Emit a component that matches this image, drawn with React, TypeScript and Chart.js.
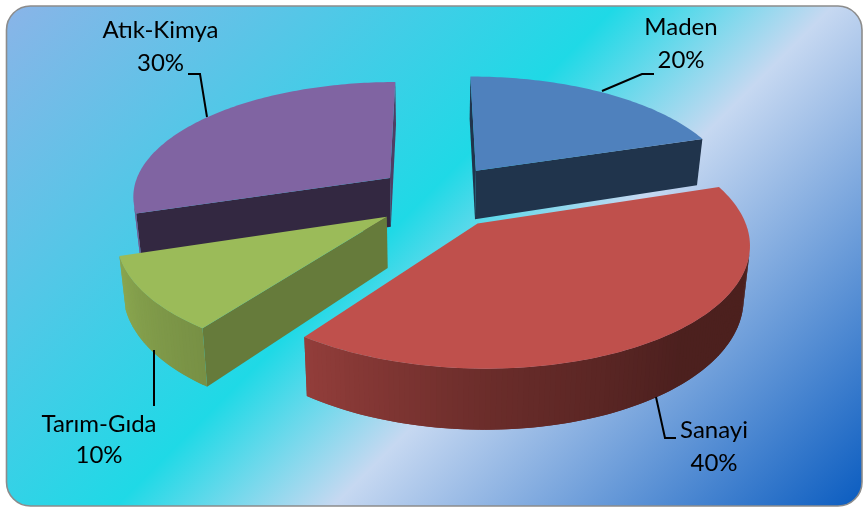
import React, { useEffect, useRef } from "react";
import { Chart, registerables } from "chart.js";

Chart.register(...registerables);

// Sector data, clockwise from twelve o'clock
const categories = ["Maden", "Sanayi", "Tarım-Gıda", "Atık-Kimya"];
const shares = [20, 40, 10, 30];
const topColors = ["#4f81bd", "#bf504c", "#9bbb59", "#8064a2"];

// How far each sector is pulled out of the pie, in radii (sideways, towards the viewer)
const explode: [number, number][] = [
  [0.175, -0.226],
  [0.17, 0.23],
  [-0.17, 0.175],
  [-0.166, -0.16],
];
// Brightness of the two cut faces of each sector (start edge, end edge)
const cutShade: [number, number][] = [
  [0.4, 0.4],
  [0.4, 0.4],
  [0.66, 0.66],
  [0.4, 0.62],
];
// Rim brightness as the rim turns from the right, through the front, to the left (degrees clockwise)
const rimShade: [number, number][] = [
  [90, 0.4],
  [140, 0.4],
  [180, 0.56],
  [216, 0.77],
  [252, 0.89],
  [270, 0.9],
];
// Paint order, furthest sector first
const paintOrder = [3, 0, 2, 1];

// Text blocks: centre x and the baselines of the two lines
const labelPlaces = [
  { x: 681, y: [35, 68] },
  { x: 714, y: [438, 471] },
  { x: 99, y: [432, 463] },
  { x: 160.5, y: [38, 71] },
];
const leaderLines: [number, number][][] = [
  [[654, 74], [642, 74], [602, 91]],
  [[656, 397], [665, 438], [676, 438]],
  [[154, 350], [154, 406]],
  [[188, 74], [200, 74], [207, 117]],
];

// Camera used to lay the pie down in perspective
const camera = { cx: 432, cy: 196, fx: 259, fy: 115, persp: 0.147, thick: 50, taper: 0.02 };

const project = (X: number, Y: number, z: number): [number, number] => {
  const d = 1 - camera.persp * Y;
  return [
    camera.cx + (camera.fx * X * (1 - camera.taper * z)) / d,
    camera.cy + (camera.fy * Y + camera.thick * z) / d,
  ];
};

const rgbOf = (hex: string) => [1, 3, 5].map((i) => parseInt(hex.slice(i, i + 2), 16));
const shaded = (hex: string, k: number) => {
  const [r, g, b] = rgbOf(hex);
  return `rgb(${Math.round(r * k)},${Math.round(g * k)},${Math.round(b * k)})`;
};

const rimBrightness = (clockDeg: number) => {
  const a = clockDeg < 90 ? 90 : clockDeg > 270 ? 270 : clockDeg;
  for (let i = 1; i < rimShade.length; i++) {
    const [a0, k0] = rimShade[i - 1];
    const [a1, k1] = rimShade[i];
    if (a <= a1) return k0 + ((k1 - k0) * (a - a0)) / (a1 - a0);
  }
  return 0.9;
};

const fillPoly = (ctx: CanvasRenderingContext2D, pts: [number, number][], color: string) => {
  ctx.beginPath();
  pts.forEach(([x, y], i) => (i ? ctx.lineTo(x, y) : ctx.moveTo(x, y)));
  ctx.closePath();
  ctx.fillStyle = color;
  ctx.fill();
};

const polyArea = (pts: [number, number][]) =>
  pts.reduce((s, [x, y], i) => {
    const [nx, ny] = pts[(i + 1) % pts.length];
    return s + x * ny - nx * y;
  }, 0);

// A wall hanging below the edge p -> q, painted only when it faces the viewer
const drawWall = (
  ctx: CanvasRenderingContext2D,
  p: [number, number],
  q: [number, number],
  color: string
) => {
  const quad: [number, number][] = [
    project(p[0], p[1], 0),
    project(q[0], q[1], 0),
    project(q[0], q[1], 1),
    project(p[0], p[1], 1),
  ];
  if (polyArea(quad) < 0) fillPoly(ctx, quad, color);
};

const drawPanel = (ctx: CanvasRenderingContext2D) => {
  const g = ctx.createLinearGradient(6, 6, 684, 684);
  g.addColorStop(0, "#8ab4e8");
  g.addColorStop(0.45, "#1fd9e6");
  g.addColorStop(0.61, "#c6d8f1");
  g.addColorStop(1, "#0a5cc0");
  ctx.beginPath();
  ctx.roundRect(6.5, 6, 855.5, 500, 24);
  ctx.fillStyle = g;
  ctx.fill();
  ctx.strokeStyle = "#8c8c8c";
  ctx.lineWidth = 1.6;
  ctx.stroke();
};

const pie3d = {
  id: "pie3d",
  beforeDatasetsDraw(chart: Chart) {
    const ctx = chart.ctx;
    const arcs = chart.getDatasetMeta(0).data as any[];
    ctx.save();
    drawPanel(ctx);

    paintOrder.forEach((i) => {
      const { startAngle, endAngle } = arcs[i].getProps(["startAngle", "endAngle"], true);
      const [ox, oy] = explode[i];
      const color = topColors[i];
      const steps = Math.max(2, Math.round(((endAngle - startAngle) * 180) / Math.PI));
      const rim: [number, number][] = [];
      for (let s = 0; s <= steps; s++) {
        const a = startAngle + ((endAngle - startAngle) * s) / steps;
        rim.push([ox + Math.cos(a), oy + Math.sin(a)]);
      }
      const apex: [number, number] = [ox, oy];

      // Cut faces
      drawWall(ctx, apex, rim[0], shaded(color, cutShade[i][0]));
      drawWall(ctx, rim[steps], apex, shaded(color, cutShade[i][1]));
      // Outer rim, bands one degree wide that overlap the next band to hide the seams
      for (let s = 0; s < steps; s++) {
        const mid = startAngle + ((endAngle - startAngle) * (s + 0.5)) / steps;
        const clock = (((mid * 180) / Math.PI + 90) % 360 + 360) % 360;
        drawWall(ctx, rim[s], rim[Math.min(s + 2, steps)], shaded(color, rimBrightness(clock)));
      }
      // Top face
      const top = [apex, ...rim].map(([x, y]) => project(x, y, 0));
      fillPoly(ctx, top, color);
    });

    // Leader lines
    ctx.strokeStyle = "#000";
    ctx.lineWidth = 2;
    ctx.lineJoin = "miter";
    leaderLines.forEach((line) => {
      ctx.beginPath();
      line.forEach(([x, y], k) => (k ? ctx.lineTo(x, y) : ctx.moveTo(x, y)));
      ctx.stroke();
    });

    // Category and share
    ctx.fillStyle = "#000";
    ctx.font = '24px Lato, "Open Sans", sans-serif';
    ctx.textAlign = "center";
    ctx.textBaseline = "alphabetic";
    categories.forEach((name, i) => {
      const place = labelPlaces[i];
      ctx.fillText(name, place.x, place.y[0]);
      ctx.fillText(`${shares[i]}%`, place.x, place.y[1]);
    });
    ctx.restore();
    return false;
  },
};

export default function App() {
  const ref = useRef<HTMLCanvasElement>(null);
  useEffect(() => {
    const chart = new Chart(ref.current!, {
      type: "pie",
      data: {
        labels: categories,
        datasets: [{ data: shares, backgroundColor: topColors, borderWidth: 0 }],
      },
      options: {
        animation: false,
        responsive: false,
        plugins: { legend: { display: false }, tooltip: { enabled: false } },
      },
      plugins: [pie3d],
    });
    return () => chart.destroy();
  }, []);
  return (
    <canvas
      ref={ref}
      width={863}
      height={509}
      style={{ position: "absolute", left: 0, top: 0, display: "block", background: "#fff" }}
    />
  );
}
